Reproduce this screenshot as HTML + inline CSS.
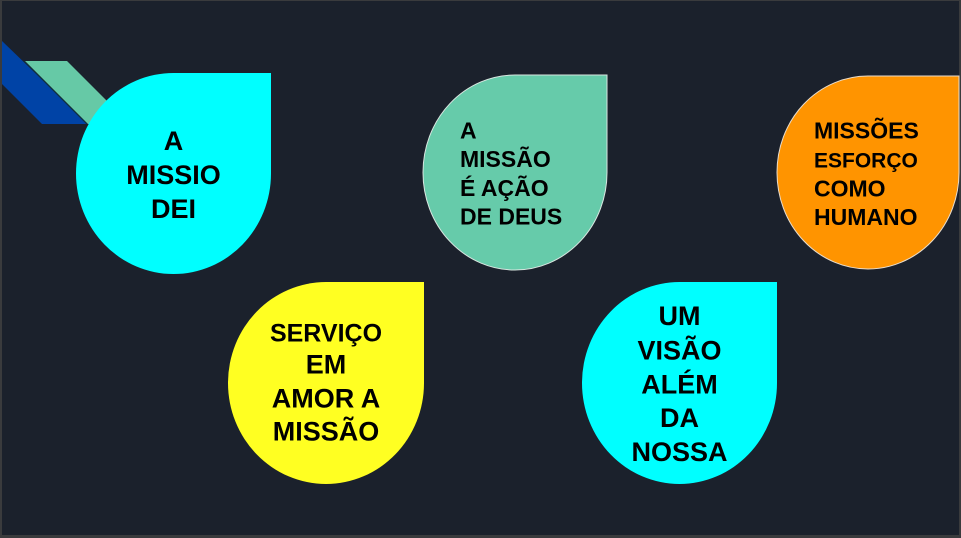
<!DOCTYPE html>
<html>
<head>
<meta charset="utf-8">
<style>
  html, body { margin: 0; padding: 0; background: #3a3b3d; }
  body { width: 961px; height: 538px; overflow: hidden; position: relative; }
  svg { position: absolute; left: 0; top: 0; display: block; }
  text { font-family: "Liberation Sans", Arial, sans-serif; font-weight: bold; fill: #000; }
</style>
</head>
<body>
<svg width="961" height="538" viewBox="0 0 961 538" xmlns="http://www.w3.org/2000/svg">
  <!-- frame -->
  <rect x="0" y="0" width="961" height="538" fill="#3a3b3d"/>
  <rect x="2" y="1" width="957" height="534" fill="#1b212c"/>

  <!-- decorative parallelograms -->
  <polygon points="2,41 88,124 42,124 2,84" fill="#0043a6"/>
  <polygon points="25,61 67,61 130,124 88,124 27,63" fill="#66c9a6"/>
  <line x1="24" y1="61" x2="87" y2="124" stroke="#10303a" stroke-width="1.2"/>

  <!-- teardrops -->
  <!-- cyan 1: 76-271, 73-274 -->
  <path d="M271,73 L271,173.5 A97.5,100.5 0 0 1 173.5,274 A97.5,100.5 0 0 1 76,173.5 A97.5,100.5 0 0 1 173.5,73 Z" fill="#00ffff"/>
  <!-- green: 423-607, 75-270 -->
  <path d="M607,75 L607,172.5 A92,97.5 0 0 1 515,270 A92,97.5 0 0 1 423,172.5 A92,97.5 0 0 1 515,75 Z" fill="#66cbaa" stroke="#d8e6e0" stroke-width="1"/>
  <!-- orange: 777-959, 76-269 -->
  <path d="M959,76 L959,172.5 A91,96.5 0 0 1 868,269 A91,96.5 0 0 1 777,172.5 A91,96.5 0 0 1 868,76 Z" fill="#ff9400" stroke="#e8dccc" stroke-width="1"/>
  <!-- yellow: 228-424, 282-484 -->
  <path d="M424,282 L424,383 A98,101 0 0 1 326,484 A98,101 0 0 1 228,383 A98,101 0 0 1 326,282 Z" fill="#ffff22"/>
  <!-- cyan 2: 582-777, 282-484 -->
  <path d="M777,282 L777,383 A97.5,101 0 0 1 679.5,484 A97.5,101 0 0 1 582,383 A97.5,101 0 0 1 679.5,282 Z" fill="#00ffff"/>

  <!-- text: cyan 1 -->
  <g text-anchor="middle" font-size="27">
    <text x="173.5" y="150">A</text>
    <text x="173.5" y="184">MISSIO</text>
    <text x="173.5" y="218">DEI</text>
  </g>

  <!-- text: green -->
  <g font-size="23">
    <text x="460" y="138.5">A</text>
    <text x="460" y="167">MISSÃO</text>
    <text x="460" y="196">É AÇÃO</text>
    <text x="460" y="224.5">DE DEUS</text>
  </g>

  <!-- text: orange -->
  <g>
    <text x="814" y="138.5" font-size="23">MISSÕES</text>
    <text x="814" y="167.5" font-size="21">ESFORÇO</text>
    <text x="814" y="196.5" font-size="23">COMO</text>
    <text x="814" y="225" font-size="23">HUMANO</text>
  </g>

  <!-- text: yellow -->
  <g text-anchor="middle">
    <text x="326" y="341.5" font-size="25">SERVIÇO</text>
    <text x="326" y="373.5" font-size="27">EM</text>
    <text x="326" y="407.5" font-size="27">AMOR A</text>
    <text x="326" y="440.5" font-size="27">MISSÃO</text>
  </g>

  <!-- text: cyan 2 -->
  <g text-anchor="middle" font-size="27">
    <text x="679.5" y="325">UM</text>
    <text x="679.5" y="359.5">VISÃO</text>
    <text x="679.5" y="393.5">ALÉM</text>
    <text x="679.5" y="427">DA</text>
    <text x="679.5" y="461">NOSSA</text>
  </g>
</svg>
</body>
</html>
